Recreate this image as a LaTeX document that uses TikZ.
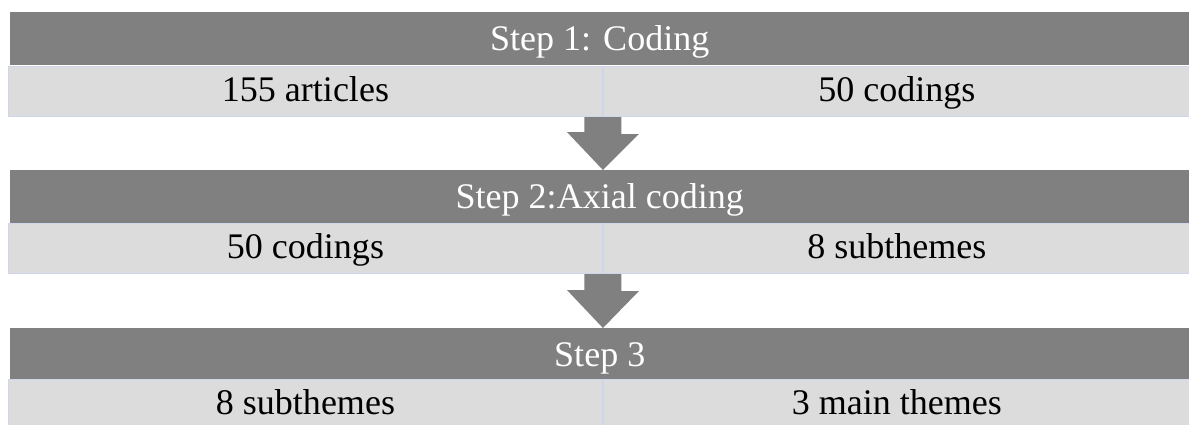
\documentclass[tikz,border=0pt]{standalone}
\usepackage{fontspec}
\setmainfont{Liberation Serif}
\usetikzlibrary{positioning,calc}
\definecolor{hdgray}{HTML}{808080}
\definecolor{cellgray}{HTML}{DCDCDC}
\definecolor{cellrule}{HTML}{CFD6EC}
\tikzset{
  head/.style    = {fill=hdgray, text=white, minimum width=23.58cm,
                    minimum height=1.06cm, inner sep=0pt, anchor=north west,
                    text height=14pt, text depth=1pt,
                    font=\fontsize{20.5}{24}\selectfont},
  lcell/.style   = {draw=cellrule, line width=0.6pt, fill=cellgray,
                    minimum width=11.88cm, minimum height=1.0cm, inner sep=0pt,
                    text height=14pt, text depth=2.7pt,
                    anchor=north west, font=\fontsize{20.5}{24}\selectfont},
  rcell/.style   = {lcell, minimum width=11.74cm},
  darrow/.style  = {fill=hdgray},
}

\begin{document}
\begin{tikzpicture}[x=0.02cm, y=-0.02cm]
  \useasboundingbox (0,0) rectangle (1189,424);
  % step 1
  \node[head] (h1) at (10,12) {Step 1: Coding};
  \node[lcell] (l1) at (8,66) {155 articles};
  \node[rcell] (r1) at (l1.north east) {50 codings};
  % step 2
  \node[head] (h2) at (10,170) {Step 2:Axial coding};
  \node[lcell] (l2) at (8,223) {50 codings};
  \node[rcell] (r2) at (l2.north east) {8 subthemes};
  % step 3
  \node[head] (h3) at (10,328) {Step 3};
  \node[lcell] (l3) at (8,379) {8 subthemes};
  \node[rcell] (r3) at (l3.north east) {3 main themes};
  % block arrows
  \fill[darrow] ($(l1.south east)+(-18.5,0)$) -- ++(37,0) -- ++(0,17)
    -- ++(17.5,0) -- (l1.south east |- h2.north) -- ++(-36,-38) -- ++(17.5,0) -- cycle;
  \fill[darrow] ($(l2.south east)+(-18.5,0)$) -- ++(37,0) -- ++(0,17)
    -- ++(17.5,0) -- (l2.south east |- h3.north) -- ++(-36,-38) -- ++(17.5,0) -- cycle;
\end{tikzpicture}
\end{document}
